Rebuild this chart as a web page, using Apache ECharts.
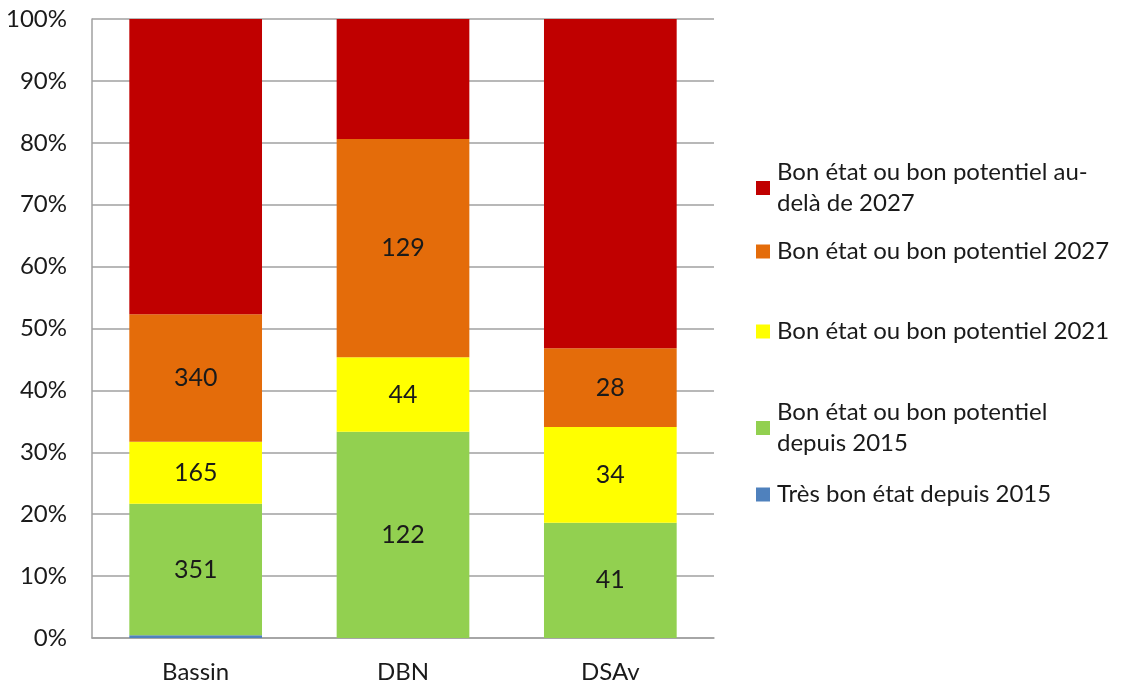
<!DOCTYPE html>
<html><head><meta charset="utf-8">
<script src="https://cdn.jsdelivr.net/npm/echarts@6/dist/echarts.min.js"></script>
<style>html,body{margin:0;padding:0;background:#fff}#c{width:1121px;height:684px}</style>
</head><body><div id="c"></div>
<script>
var categories = ['Bassin', 'DBN', 'DSAv'];
var seriesNames = [
  'Très bon état depuis 2015',
  'Bon état ou bon potentiel\ndepuis 2015',
  'Bon état ou bon potentiel 2021',
  'Bon état ou bon potentiel 2027',
  'Bon état ou bon potentiel au-\ndelà de 2027'
];
var tresBon2015 = [7, 0, 0];
var bon2015 = [351, 122, 41];
var bon2021 = [165, 44, 34];
var bon2027 = [340, 129, 28];
var auDela2027 = [787, 71, 117];
var yTicks = ['0%','10%','20%','30%','40%','50%','60%','70%','80%','90%','100%'];

var colors = ['#4F81BD', '#92D050', '#FFFF00', '#E46C0A', '#C00000'];
var showLabel = [false, true, true, true, false];
var allSeries = [tresBon2015, bon2015, bon2021, bon2027, auDela2027];
var totals = categories.map(function(_, i){
  return allSeries.reduce(function(s, arr){ return s + arr[i]; }, 0);
});
var FONT = 'Lato';
var series = allSeries.map(function(arr, k){
  return {
    name: seriesNames[k],
    type: 'bar',
    stack: 'total',
    barCategoryGap: '36%',
    itemStyle: { color: colors[k] },
    label: {
      show: showLabel[k],
      position: 'inside',
      fontFamily: FONT,
      fontSize: 25,
      color: '#1a1a1a',
      formatter: function(p){ return arr[p.dataIndex]; }
    },
    data: arr.map(function(v, i){ return v / totals[i] * 100; })
  };
});
var legendTops = [474, 392, 311, 231, 152];
var legends = seriesNames.map(function(n, k){
  return {
    data: [n],
    left: 751,
    top: legendTops[k],
    orient: 'vertical',
    itemWidth: 14,
    itemHeight: 14,
    itemGap: 0,
    icon: 'rect',
    selectedMode: false,
    textStyle: { fontFamily: FONT, fontSize: 24, color: '#1a1a1a', lineHeight: 31, padding: [0,0,0,2] }
  };
});
var chart = echarts.init(document.getElementById('c'), null, {renderer: 'canvas'});
chart.setOption({
  animation: false,
  grid: { left: 92, right: 407, top: 19, bottom: 46, containLabel: false },
  legend: legends,
  xAxis: {
    type: 'category',
    data: categories,
    axisLine: { lineStyle: { color: '#a0a0a0', width: 1.5 } },
    axisTick: { show: false },
    axisLabel: { fontFamily: FONT, fontSize: 24, color: '#1a1a1a', margin: 22 }
  },
  yAxis: {
    type: 'value',
    min: 0, max: 100, interval: 10,
    axisLine: { show: true, lineStyle: { color: '#a0a0a0', width: 1.5 } },
    axisTick: { show: false },
    splitLine: { lineStyle: { color: '#a0a0a0', width: 1.5 } },
    axisLabel: {
      fontFamily: FONT, fontSize: 24, color: '#1a1a1a', margin: 25,
      formatter: function(v){ return yTicks[Math.round(v / 10)]; }
    }
  },
  series: series
});
</script></body></html>
